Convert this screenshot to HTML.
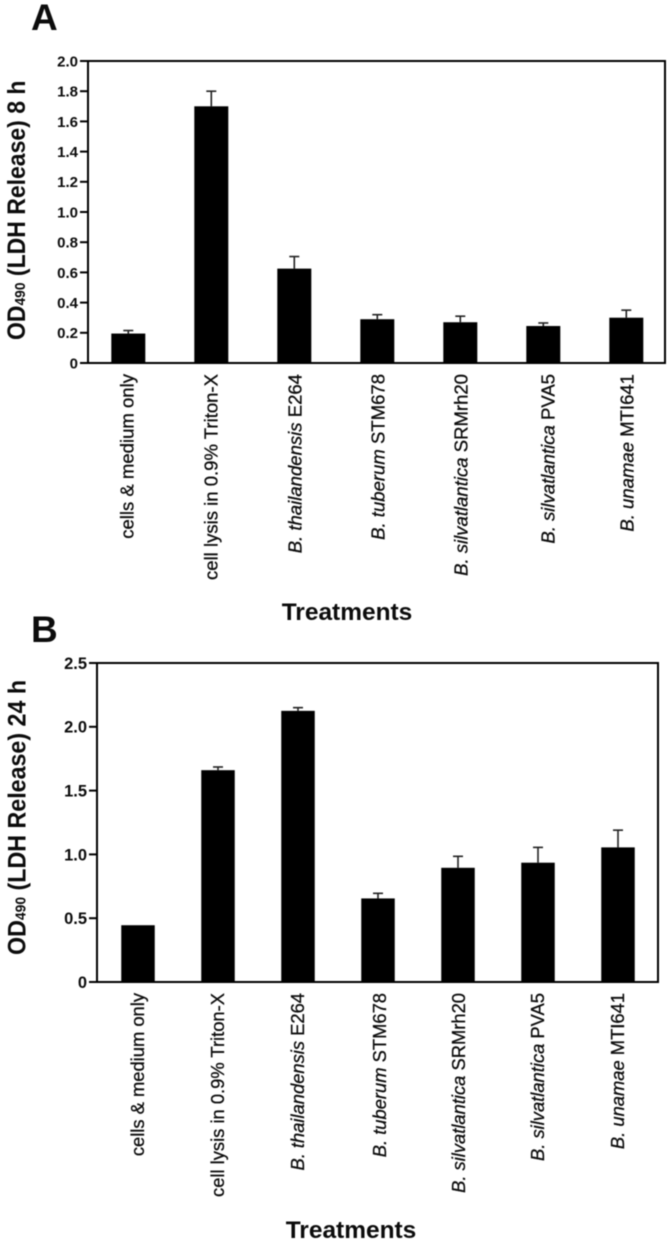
<!DOCTYPE html>
<html lang="en">
<head>
<meta charset="utf-8">
<title>LDH release at 8 h and 24 h</title>
<style>
html,body{margin:0;padding:0;background:#fff;width:672px;height:1245px;overflow:hidden}
svg{display:block;filter:blur(0.45px)}
text{font-family:"Liberation Sans",sans-serif;fill:#0c0c0c}
</style>
</head>
<body>
<svg id="figure" xmlns="http://www.w3.org/2000/svg" width="672" height="1245" viewBox="0 0 672 1245"></svg>
<script>
const categorySpecies = ['', '', 'B. thailandensis', 'B. tuberum', 'B. silvatlantica', 'B. silvatlantica', 'B. unamae'];
const categoryNames = ['cells & medium only', 'cell lysis in 0.9% Triton-X', 'E264', 'STM678', 'SRMrh20', 'PVA5', 'MTI641'];

const valuesA = [0.195, 1.70, 0.625, 0.29, 0.27, 0.245, 0.30];
const errorTopsA = [0.215, 1.80, 0.705, 0.32, 0.31, 0.265, 0.35];
const tickValuesA = [0, 0.2, 0.4, 0.6, 0.8, 1.0, 1.2, 1.4, 1.6, 1.8, 2.0];
const tickLabelsA = ['0', '0.2', '0.4', '0.6', '0.8', '1.0', '1.2', '1.4', '1.6', '1.8', '2.0'];

const valuesB = [0.445, 1.66, 2.125, 0.655, 0.895, 0.935, 1.055];
const errorTopsB = [0.445, 1.685, 2.15, 0.695, 0.985, 1.055, 1.19];
const tickValuesB = [0, 0.5, 1.0, 1.5, 2.0, 2.5];
const tickLabelsB = ['0', '0.5', '1.0', '1.5', '2.0', '2.5'];

const NS = 'http://www.w3.org/2000/svg';
const svg = document.getElementById('figure');

function make(tag, attrs, parent) {
  const el = document.createElementNS(NS, tag);
  for (const k in attrs) el.setAttribute(k, attrs[k]);
  parent.appendChild(el);
  return el;
}

function drawPanel(p, values, errorTops, tickValues, tickLabels) {
  const group = make('g', {}, svg);
  
  

  const yScale = v => p.bottom - (v / p.yMax) * (p.bottom - p.top);
  const xScale = i => p.firstCenter + i * p.step;

  const letter = make('text', {x: p.letterX, y: p.letterY, 'font-size': 37, 'font-weight': 700}, group);
  letter.textContent = p.id;
  
  

  const frame = make('rect', {x: p.left, y: p.top, width: p.right - p.left, height: p.bottom - p.top, fill: 'none', stroke: '#000', 'stroke-width': 2}, group);
  
  

  tickValues.forEach((v, i) => {
    const y = yScale(v);
    const tick = make('line', {x1: p.left - 8, x2: p.left, y1: y, y2: y, stroke: '#000', 'stroke-width': 2}, group);
    
    
    const label = make('text', {x: p.left - 10, y: y + p.tickFont * 0.36, 'text-anchor': 'end', 'font-size': p.tickFont, 'font-weight': 700}, group);
    label.textContent = tickLabels[i];
    
    
  });

  values.forEach((v, i) => {
    const cx = xScale(i);
    if (errorTops[i] > v) {
      const stem = make('line', {x1: cx, x2: cx, y1: yScale(v), y2: yScale(errorTops[i]), stroke: '#222', 'stroke-width': 1.6}, group);
      
      
      const cap = make('line', {x1: cx - 5, x2: cx + 5, y1: yScale(errorTops[i]), y2: yScale(errorTops[i]), stroke: '#222', 'stroke-width': 1.6}, group);
      
      
    }
    const bar = make('rect', {x: cx - p.barWidth / 2, y: yScale(v), width: p.barWidth, height: p.bottom - yScale(v), fill: '#000'}, group);
    
    

    const label = make('text', {
      transform: 'translate(' + (cx + p.labelOffset + p.labelNudge[i]) + ',' + (p.bottom + p.labelGap) + ') rotate(-90) scale(' + p.labelSqueeze + ',1)',
      'text-anchor': 'end', 'font-size': p.labelFont, stroke: '#0c0c0c', 'stroke-width': 0.3
    }, group);
    
    
    if (categorySpecies[i]) {
      const it = make('tspan', {'font-style': 'italic'}, label);
      it.textContent = categorySpecies[i] + ' ';
    }
    const nm = make('tspan', {}, label);
    nm.textContent = categoryNames[i];
  });

  const yTitle = make('text', {
    transform: 'translate(' + p.titleX + ',' + p.titleY + ') rotate(-90) scale(' + p.titleSqueeze + ',1)',
    'font-size': 25, 'font-weight': 700
  }, group);
  
  
  const t1 = make('tspan', {}, yTitle);
  t1.textContent = 'OD';
  const t2 = make('tspan', {'font-size': 15}, yTitle);
  t2.textContent = '490';
  const t3 = make('tspan', {}, yTitle);
  t3.textContent = ' (LDH Release) ' + p.timeLabel;

  const xTitle = make('text', {
    transform: 'translate(' + p.xTitleX + ',' + p.xTitleY + ') scale(1.02,1)',
    'text-anchor': 'middle', 'font-size': 24, 'font-weight': 700
  }, group);
  xTitle.textContent = 'Treatments';
  
  
}

drawPanel({
  id: 'A', letterX: 31, letterY: 30, left: 88, right: 665, top: 61, bottom: 363, yMax: 2.0,
  firstCenter: 128.3, step: 83, barWidth: 34, tickFont: 15,
  labelFont: 18, labelOffset: 6, labelGap: 11, labelSqueeze: 1.03,
  labelNudge: [-1, 0, 1, 1, 1, 5, 1],
  titleX: 25, titleY: 340, titleSqueeze: 0.92, timeLabel: '8 h',
  xTitleX: 347, xTitleY: 620
}, valuesA, errorTopsA, tickValuesA, tickLabelsA);

drawPanel({
  id: 'B', letterX: 31, letterY: 642, left: 97, right: 658, top: 663, bottom: 982, yMax: 2.5,
  firstCenter: 138, step: 80, barWidth: 33.5, tickFont: 16.5,
  labelFont: 18, labelOffset: 6, labelGap: 11, labelSqueeze: 1.02,
  labelNudge: [0, 0, 0, 2, 1, 0, 0],
  titleX: 25.5, titleY: 955, titleSqueeze: 0.93, timeLabel: '24 h',
  xTitleX: 351, xTitleY: 1238
}, valuesB, errorTopsB, tickValuesB, tickLabelsB);
</script>
</body>
</html>
